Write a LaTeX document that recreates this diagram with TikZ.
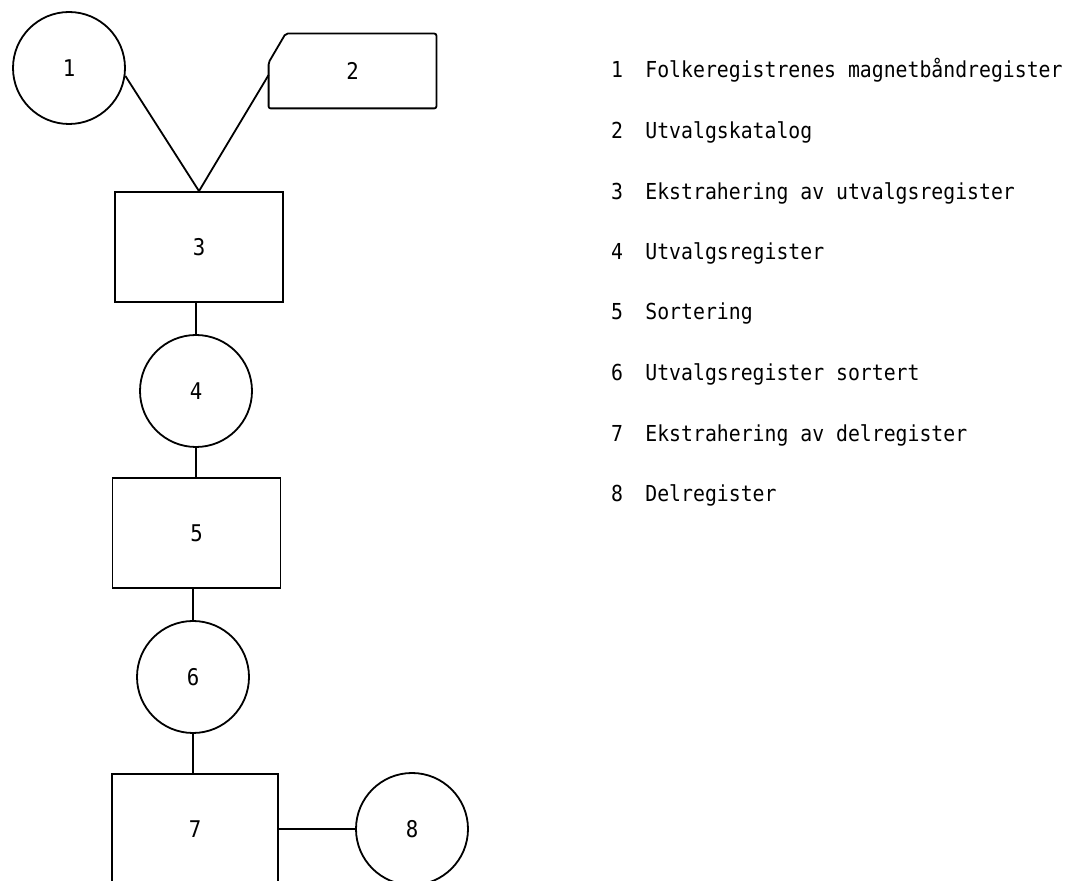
\documentclass[tikz,border=0pt]{standalone}
\usepackage{fontspec}
\setmainfont[FakeStretch=0.9]{DejaVu Sans Mono}
\begin{document}
\begin{tikzpicture}[x=0.5pt,y=-0.5pt,
  every node/.style={font=\fontsize{11.5}{13}\selectfont},
  proc/.style={draw, line width=0.9pt, minimum width=84pt, minimum height=55pt, inner sep=0pt},
  store/.style={draw, circle, line width=0.9pt, minimum size=56pt, inner sep=0pt},
  cardarea/.style={minimum width=83.5pt, minimum height=37pt, inner sep=0pt},
  link/.style={line width=0.9pt},
  legnum/.style={anchor=base, inner sep=0pt, font=\fontsize{11}{13}\selectfont},
  legtxt/.style={anchor=base west, inner sep=0pt, font=\fontsize{11}{13}\selectfont}]
\useasboundingbox (0,0) rectangle (1072,881);
\clip (0,0) rectangle (1072,881);

% flowchart symbols
\node[store] (n1) at (69,68) {1};
\node[cardarea] (n2) at (352.5,71) {2};
\draw[link, rounded corners=1pt] ([xshift=8.5pt]n2.north west) -- (n2.north east) -- (n2.south east) -- (n2.south west) -- ([yshift=-14.5pt]n2.north west) -- cycle;
\node[proc] (n3) at (199,247) {3};
\node[store] (n4) at (196,391) {4};
\node[proc] (n5) at (196.5,533) {5};
\node[store] (n6) at (193,677) {6};
\node[proc, minimum width=83pt] (n7) at (195,829) {7};
\node[store] (n8) at (412,829) {8};

% connectors
\draw[link] (n1.-8) -- (n3.north);
\draw[link] ([yshift=-2pt]n2.west) -- (n3.north);
\draw[link] (n4.north) -- (n4.north |- n3.south);
\draw[link] (n4.south) -- (n4.south |- n5.north);
\draw[link] (n6.north) -- (n6.north |- n5.south);
\draw[link] (n6.south) -- (n6.south |- n7.north);
\draw[link] (n7.east) -- (n8.west);

% legend
\node[legnum] (k1) at (617,78) {1};
\node[legtxt] (t1) at (645,78) {Folkeregistrenes magnetbåndregister};
\node[legnum] (k2) at (617,139) {2};
\node[legtxt] (t2) at (645,139) {Utvalgskatalog};
\node[legnum] (k3) at (617,200) {3};
\node[legtxt] (t3) at (645,200) {Ekstrahering av utvalgsregister};
\node[legnum] (k4) at (617,260) {4};
\node[legtxt] (t4) at (645,260) {Utvalgsregister};
\node[legnum] (k5) at (617,320) {5};
\node[legtxt] (t5) at (645,320) {Sortering};
\node[legnum] (k6) at (617,381) {6};
\node[legtxt] (t6) at (645,381) {Utvalgsregister sortert};
\node[legnum] (k7) at (617,442) {7};
\node[legtxt] (t7) at (645,442) {Ekstrahering av delregister};
\node[legnum] (k8) at (617,502) {8};
\node[legtxt] (t8) at (645,502) {Delregister};
\end{tikzpicture}
\end{document}
